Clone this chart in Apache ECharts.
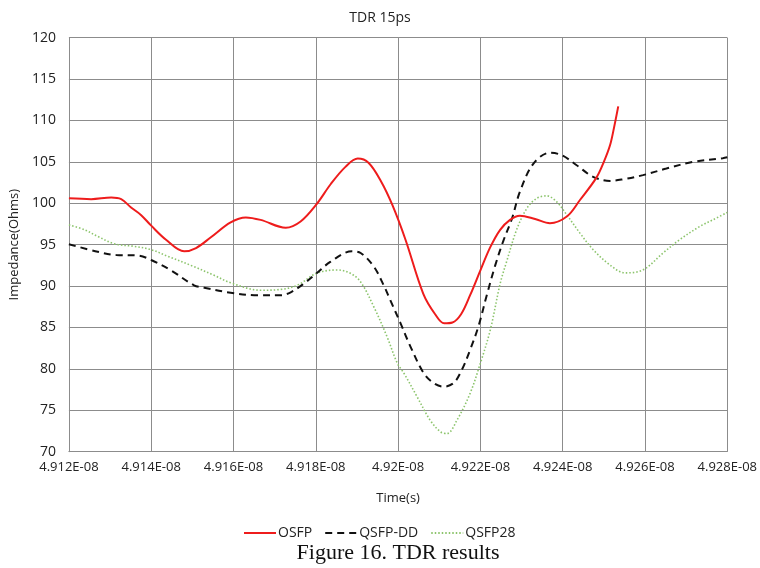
<!DOCTYPE html>
<html>
<head>
<meta charset="utf-8">
<script src="https://cdn.jsdelivr.net/npm/echarts@6/dist/echarts.min.js"></script>
<style>
  html, body { margin: 0; padding: 0; background: #fff; }
  #chart { width: 760px; height: 568px; }
</style>
</head>
<body>
<div id="chart"></div>
<script>
// Time in picoseconds (1e-12 s); labels are printed as x.xxxE-08 seconds.
const timeMin = 49120;
const timeMax = 49280;
const timeStep = 20;
const impMin = 70;
const impMax = 120;
const impStep = 5;

const seriesNames = ['OSFP', 'QSFP-DD', 'QSFP28'];

// [time (ps), impedance (Ohms)]
const osfp = [
  [49120.0, 100.6], [49125.4, 100.5], [49130.3, 100.7], [49132.7, 100.5],
  [49135.1, 99.5], [49137.5, 98.6], [49140.0, 97.3], [49143.6, 95.6],
  [49148.0, 94.2], [49150.9, 94.6], [49154.5, 95.9], [49159.3, 97.7],
  [49163.0, 98.3], [49166.6, 98.0], [49172.7, 97.05], [49176.3, 97.8],
  [49180.2, 99.9], [49183.6, 102.3], [49187.2, 104.4], [49190.2, 105.4],
  [49192.8, 104.9], [49195.8, 102.7], [49198.6, 99.8], [49201.8, 95.6],
  [49206.1, 89.1], [49209.0, 86.6], [49211.2, 85.5], [49213.2, 85.6],
  [49215.3, 86.6], [49217.5, 88.9], [49220.0, 91.9], [49222.4, 94.7],
  [49224.8, 96.8], [49227.2, 98.0], [49229.6, 98.5], [49233.3, 98.1],
  [49236.9, 97.6], [49241.0, 98.4], [49244.2, 100.4], [49248.2, 103.1],
  [49250.0, 105.0], [49251.5, 107.0], [49252.5, 109.2], [49253.5, 111.7]
];

const qsfpDD = [
  [49120.0, 95.05], [49127.0, 94.15], [49131.5, 93.75], [49136.7, 93.7],
  [49140.0, 93.15], [49144.8, 91.9], [49150.4, 90.1], [49152.9, 89.8],
  [49159.3, 89.2], [49165.8, 88.9], [49171.5, 88.9], [49173.9, 89.25],
  [49177.1, 90.3], [49180.2, 91.55], [49183.6, 92.95], [49188.8, 94.2],
  [49190.9, 94.0], [49194.1, 92.35], [49196.5, 90.1], [49198.1, 88.3],
  [49200.6, 85.5], [49203.0, 82.7], [49206.2, 79.5], [49208.6, 78.3],
  [49211.0, 77.85], [49213.5, 78.3], [49215.5, 79.9], [49217.5, 82.3],
  [49219.5, 85.1], [49221.6, 89.0], [49223.6, 92.5], [49225.6, 95.5],
  [49227.7, 98.2], [49229.6, 101.4], [49232.9, 104.8], [49236.9, 106.1],
  [49239.8, 105.8], [49243.4, 104.6], [49247.4, 103.2], [49251.5, 102.7],
  [49254.7, 102.9], [49259.5, 103.4], [49265.2, 104.2], [49271.7, 105.0],
  [49278.9, 105.45], [49280.0, 105.55]
];

const qsfp28 = [
  [49120.0, 97.4], [49123.8, 96.8], [49127.0, 96.0], [49131.1, 95.1],
  [49135.9, 94.8], [49140.0, 94.4], [49144.0, 93.6], [49150.4, 92.35],
  [49155.3, 91.3], [49159.3, 90.4], [49166.6, 89.5], [49171.5, 89.6],
  [49175.5, 90.1], [49180.2, 91.55], [49185.2, 91.95], [49188.4, 91.55],
  [49190.9, 90.5], [49194.1, 87.5], [49197.3, 83.9], [49199.8, 80.7],
  [49201.4, 79.5], [49204.6, 76.65], [49207.8, 73.8], [49210.3, 72.4],
  [49211.9, 72.2], [49214.3, 73.8], [49217.5, 77.05], [49220.0, 80.7],
  [49222.4, 84.7], [49224.8, 90.3], [49226.4, 93.0], [49228.8, 96.8],
  [49231.3, 99.4], [49233.7, 100.6], [49236.1, 100.9], [49238.5, 100.2],
  [49241.0, 98.6], [49244.2, 96.4], [49247.4, 94.4], [49251.5, 92.55],
  [49255.1, 91.6], [49259.5, 91.95], [49264.4, 94.0], [49268.4, 95.6],
  [49273.3, 97.2], [49276.5, 98.0], [49280.0, 98.9]
];

const uiFont = '"Open Sans", "Noto Sans", sans-serif';
const gridColor = '#8c8c8c';

function timeLabel(v) {
  return (v / 10000).toFixed(3).replace(/0+$/, '') + 'E-08';
}

const chart = echarts.init(document.getElementById('chart'), null, { renderer: 'canvas' });

chart.setOption({
  backgroundColor: '#ffffff',
  animation: false,
  title: [{
    text: 'TDR 15ps',
    left: 'center',
    top: 6,
    textStyle: { fontFamily: uiFont, fontSize: 14, fontWeight: 'normal', color: '#222' }
  }, {
    text: 'Figure 16. TDR results',
    left: 393,
    textAlign: 'center',
    top: 537,
    textStyle: { fontFamily: '"Liberation Serif", "Times New Roman", serif', fontSize: 22, fontWeight: 'normal', color: '#111' }
  }],
  grid: { left: 67.7, right: 32.3, top: 37.7, bottom: 116.3, containLabel: false },
  legend: {
    data: seriesNames,
    left: 238,
    top: 521,
    itemWidth: 32,
    itemHeight: 14,
    itemGap: 12,
    itemStyle: { opacity: 0 },
    textStyle: { fontFamily: uiFont, fontSize: 14, color: '#222', padding: [0, 0, 0, -3] }
  },
  xAxis: {
    type: 'value',
    min: timeMin,
    max: timeMax,
    interval: timeStep,
    name: 'Time(s)',
    nameLocation: 'middle',
    nameGap: 40,
    nameTextStyle: { fontFamily: uiFont, fontSize: 13, color: '#222' },
    axisLine: { show: true, lineStyle: { color: gridColor, width: 1 } },
    axisTick: { show: false },
    axisLabel: { formatter: timeLabel, fontFamily: uiFont, fontSize: 13, color: '#222', margin: 9 },
    splitLine: { show: true, lineStyle: { color: gridColor, width: 1 } }
  },
  yAxis: {
    type: 'value',
    min: impMin,
    max: impMax,
    interval: impStep,
    name: 'Impedance(Ohms)',
    nameLocation: 'middle',
    nameGap: 42,
    nameTextStyle: { fontFamily: uiFont, fontSize: 13, color: '#222' },
    axisLine: { show: true, lineStyle: { color: gridColor, width: 1 } },
    axisTick: { show: false },
    axisLabel: { fontFamily: uiFont, fontSize: 14, color: '#222', margin: 13 },
    splitLine: { show: true, lineStyle: { color: gridColor, width: 1 } }
  },
  series: [{
    name: seriesNames[0],
    type: 'line',
    data: osfp,
    smooth: 0.35,
    symbol: 'none',
    lineStyle: { color: '#ee1c1c', width: 2, type: 'solid' },
    itemStyle: { color: '#ee1c1c' },
    z: 4
  }, {
    name: seriesNames[1],
    type: 'line',
    data: qsfpDD,
    smooth: 0.35,
    symbol: 'none',
    lineStyle: { color: '#111111', width: 2, type: [7, 5] },
    itemStyle: { color: '#111111' },
    z: 3
  }, {
    name: seriesNames[2],
    type: 'line',
    data: qsfp28,
    smooth: 0.35,
    symbol: 'none',
    lineStyle: { color: '#8cc46c', width: 1.6, type: [1.5, 2] },
    itemStyle: { color: '#8cc46c' },
    z: 2
  }]
});
</script>
</body>
</html>
